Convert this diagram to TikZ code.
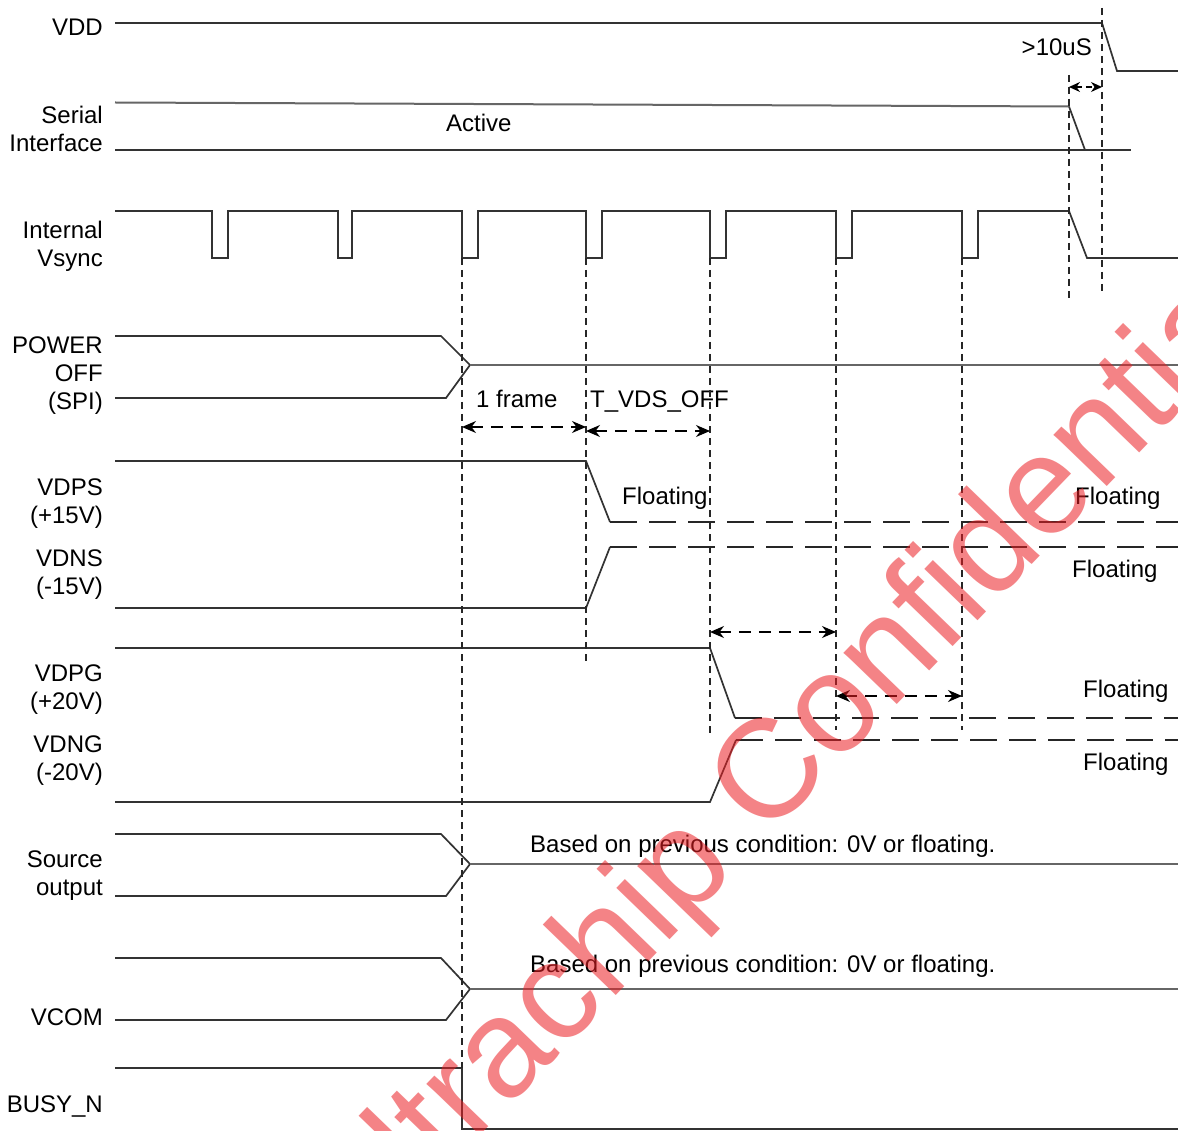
\documentclass[tikz,border=0pt]{standalone}
\usepackage{fontspec}
\setmainfont{Liberation Sans}
\usetikzlibrary{arrows.meta}
\definecolor{wmred}{RGB}{235,30,35}
\begin{document}
\begin{tikzpicture}[x=1pt,y=-1pt,
  sig/.style={line width=1.7pt, draw=black!80, line join=miter},
  soft/.style={line width=2.4pt, draw=black!60},
  vgrid/.style={line width=1.4pt, draw=black!85, dash pattern=on 7pt off 5pt},
  flt/.style={line width=2.2pt, draw=black!85, dash pattern=on 27pt off 12pt},
  dimarrow/.style={line width=1.4pt, draw=black, dash pattern=on 12pt off 8pt,
    {Stealth[length=14pt,width=12pt]}-{Stealth[length=14pt,width=12pt]}},
  lbl/.style={anchor=north east, inner sep=0pt, align=right, font=\fontsize{24}{28}\selectfont},
  txt/.style={anchor=north west, inner sep=0pt, font=\fontsize{24}{28}\selectfont},
  wm/.style={inner sep=0pt, text=wmred, text opacity=0.55, font=\fontsize{140}{140}\selectfont},
]
\useasboundingbox (0,0) rectangle (1178,1131);
\fill[white] (0,0) rectangle (1178,1131);

% ---- labels ----
\node[lbl] (lVDD) at (103,18.4) {VDD};
\node[lbl] (lSer) at (103,106.4) {Serial\\Interface};
\node[lbl] (lVs) at (103,221.4) {Internal\\Vsync};
\node[lbl] (lPO) at (103,336.4) {POWER\\OFF\\(SPI)};
\node[lbl] (lVDPS) at (103,478.4) {VDPS\\(+15V)};
\node[lbl] (lVDNS) at (103,549.4) {VDNS\\(-15V)};
\node[lbl] (lVDPG) at (103,664.4) {VDPG\\(+20V)};
\node[lbl] (lVDNG) at (103,735.4) {VDNG\\(-20V)};
\node[lbl] (lSrc) at (103,850.4) {Source\\output};
\node[lbl] (lVCOM) at (103,1008.4) {VCOM};
\node[lbl] (lBusy) at (103,1095.4) {BUSY\_N};

% ---- texts ----
\node[lbl] (t10) at (1092,38.4) {>10uS};
\node[txt] (tAct) at (446,114.4) {Active};
\node[txt] (tFrame) at (476,390.4) {1 frame};
\node[txt] (tVds) at (590,390.4) {T\_VDS\_OFF};
\node[txt] (fl1) at (622,487.4) {Floating};
\node[txt] (fl2) at (1075,487.4) {Floating};
\node[txt] (fl3) at (1072,560.4) {Floating};
\node[txt] (fl4) at (1083,680.4) {Floating};
\node[txt] (fl5) at (1083,753.4) {Floating};
\node[txt] (bas1) at (530,835.4) {Based on previous condition: 0V or floating.};
\node[txt] (bas2) at (530,955.4) {Based on previous condition: 0V or floating.};

% ---- waveforms ----
% VDD
\draw[sig] (115,23) -- (1102,23) -- (1117,71) -- (1178,71);
% Serial interface
\draw[soft, line width=2pt] (115,102.5) -- (1069,106.5);
\draw[sig] (1069,106.5) -- (1085,150);
\draw[sig] (115,150) -- (1131,150);
% Internal Vsync
\draw[sig] (115,211)
  -- (212,211) -- (212,258) -- (228,258) -- (228,211)
  -- (338,211) -- (338,258) -- (352,258) -- (352,211)
  -- (462,211) -- (462,258) -- (478,258) -- (478,211)
  -- (586,211) -- (586,258) -- (602,258) -- (602,211)
  -- (710,211) -- (710,258) -- (726,258) -- (726,211)
  -- (836,211) -- (836,258) -- (852,258) -- (852,211)
  -- (962,211) -- (962,258) -- (978,258) -- (978,211)
  -- (1069,211) -- (1087,258) -- (1178,258);
% POWER OFF
\draw[sig] (115,336) -- (441,336) -- (470,365);
\draw[sig] (115,398) -- (446,398) -- (470,365);
\draw[soft] (470,365) -- (1178,365);
% VDPS
\draw[sig] (115,461) -- (586,461) -- (610,522);
\draw[flt] (610,522) -- (1178,522);
% VDNS
\draw[sig] (115,608) -- (586,608) -- (610,547);
\draw[flt] (610,547) -- (1178,547);
% VDPG
\draw[sig] (115,648) -- (710,648) -- (735,718);
\draw[flt] (735,718) -- (1178,718);
% VDNG
\draw[sig] (115,802) -- (710,802) -- (736,740);
\draw[flt] (736,740) -- (1178,740);
% Source output
\draw[sig] (115,834) -- (441,834) -- (470,864);
\draw[sig] (115,896) -- (446,896) -- (470,864);
\draw[soft] (470,864) -- (1178,864);
% VCOM
\draw[sig] (115,958) -- (441,958) -- (470,989);
\draw[sig] (115,1020) -- (446,1020) -- (470,989);
\draw[soft] (470,989) -- (1178,989);
% BUSY_N
\draw[sig] (115,1068) -- (462,1068) -- (462,1129) -- (1178,1129);

% ---- vertical dashed guides ----
\draw[vgrid] (1102,8) -- (1102,293);
\draw[vgrid] (1069,75) -- (1069,298);
\draw[vgrid] (462,258) -- (462,1068);
\draw[vgrid] (586,258) -- (586,662);
\draw[vgrid] (710,258) -- (710,735);
\draw[vgrid] (836,258) -- (836,730);
\draw[vgrid] (962,258) -- (962,730);

% ---- dimension arrows ----
\coordinate (a1) at (1069,87);  \coordinate (b1) at (1102,87);
\coordinate (a2) at (462,427);  \coordinate (b2) at (586,427);
\coordinate (a3) at (586,431);  \coordinate (b3) at (710,431);
\coordinate (a4) at (710,632);  \coordinate (b4) at (836,632);
\coordinate (a5) at (836,696);  \coordinate (b5) at (962,696);
\draw[dimarrow, {Stealth[length=11pt,width=10pt]}-{Stealth[length=11pt,width=10pt]}, dash pattern=on 6pt off 4pt] (a1) -- (b1);
\draw[dimarrow] (a2) -- (b2);
\draw[dimarrow] (a3) -- (b3);
\draw[dimarrow] (a4) -- (b4);
\draw[dimarrow] (a5) -- (b5);

% ---- watermark ----
\node[wm, rotate=46, anchor=base west] (wmark) at (355,1266) {Ultrachip Confidential};
\end{tikzpicture}
\end{document}
